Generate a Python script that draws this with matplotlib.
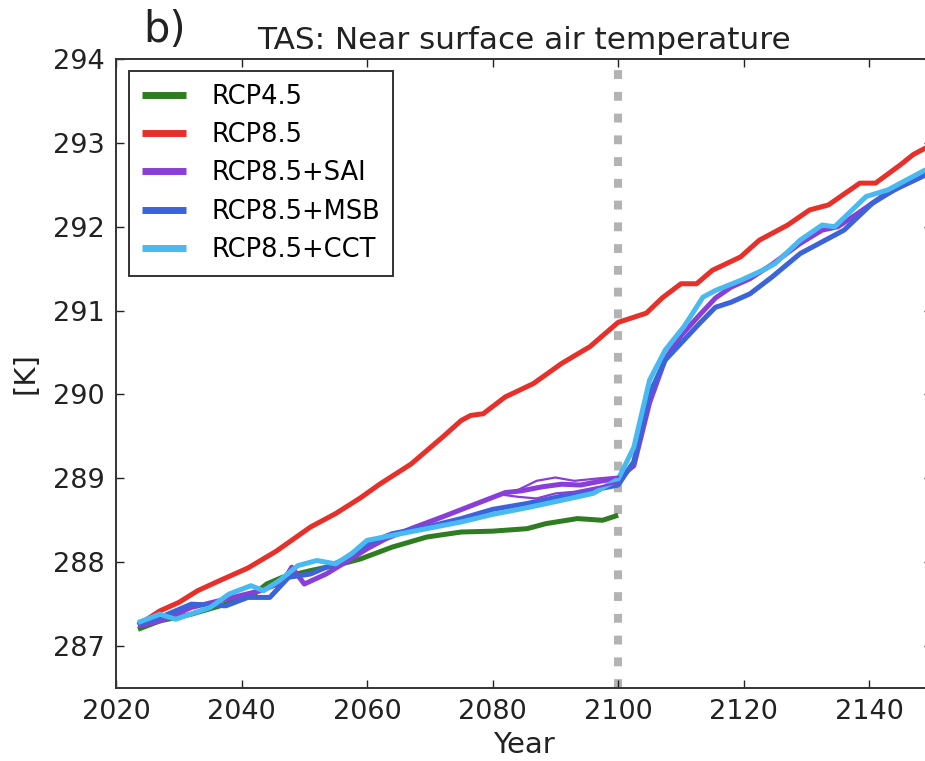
import matplotlib
matplotlib.use("Agg")
import matplotlib.pyplot as plt

# ---------------- data ----------------
rcp45_years = [2023.5, 2027, 2032, 2037.5, 2042, 2044, 2046.5, 2051, 2056, 2059, 2064,
               2069.5, 2075, 2080, 2085.5, 2088.5, 2093.5, 2097.5, 2100]
rcp45_vals = [287.20, 287.30, 287.38, 287.50, 287.62, 287.74, 287.82, 287.90, 287.98, 288.04,
              288.18, 288.30, 288.36, 288.37, 288.40, 288.46, 288.52, 288.50, 288.56]

rcp85_years = [2023.5, 2027, 2030, 2033, 2036.5, 2041, 2045.5, 2051, 2055, 2059, 2062, 2067,
               2072, 2075, 2076.5, 2078.5, 2082, 2086.5, 2091, 2095.5, 2100,
               2104.5, 2107, 2110, 2112.5, 2115, 2119.5, 2122.5, 2127, 2130.5, 2133.5,
               2138.5, 2141, 2145, 2147, 2149]
rcp85_vals = [287.25, 287.42, 287.52, 287.66, 287.78, 287.93, 288.13, 288.42, 288.58, 288.77,
              288.93, 289.17, 289.49, 289.69, 289.75, 289.77, 289.97, 290.13, 290.37, 290.57,
              290.86, 290.97, 291.15, 291.32, 291.32, 291.48, 291.64, 291.84, 292.02, 292.20,
              292.26, 292.52, 292.52, 292.74, 292.86, 292.94]

sai_years = [2023.5, 2027, 2032, 2037.5, 2043, 2046.5, 2048, 2050, 2053.5, 2057, 2060, 2063,
             2067, 2072, 2077.5, 2082, 2084.5, 2088, 2091, 2094, 2097.5, 2100,
             2102.5, 2105, 2107.5, 2110, 2113, 2115.5, 2118, 2121, 2124.5, 2129, 2132.5,
             2135, 2138, 2142, 2145, 2149]
sai_vals = [287.24, 287.30, 287.46, 287.56, 287.66, 287.76, 287.94, 287.74, 287.86, 288.02,
            288.16, 288.28, 288.40, 288.54, 288.70, 288.83, 288.85, 288.90, 288.93, 288.92,
            288.97, 289.00, 289.15, 289.90, 290.42, 290.70, 290.95, 291.15, 291.28, 291.38,
            291.55, 291.80, 291.96, 292.00, 292.15, 292.36, 292.48, 292.62]
sai_hi_years = [2082, 2084, 2087, 2090, 2093, 2097, 2100]
sai_hi_vals = [288.83, 288.86, 288.97, 289.01, 288.97, 289.00, 289.02]
sai_lo_years = [2082, 2084, 2087, 2090, 2093, 2097, 2100]
sai_lo_vals = [288.80, 288.78, 288.76, 288.82, 288.84, 288.90, 288.95]

msb_years = [2023.5, 2027, 2032, 2037.5, 2041, 2044.5, 2047.5, 2051, 2056, 2060, 2064,
             2069.5, 2075, 2080, 2085.5, 2090.5, 2096, 2100,
             2102.5, 2105, 2107.5, 2110, 2113, 2115.5, 2118, 2121, 2124.5, 2129, 2133,
             2136, 2140.5, 2144, 2149]
msb_vals = [287.26, 287.34, 287.50, 287.48, 287.58, 287.58, 287.82, 287.86, 288.02, 288.22,
            288.34, 288.42, 288.52, 288.63, 288.70, 288.78, 288.86, 288.92,
            289.20, 290.01, 290.41, 290.61, 290.85, 291.04, 291.10, 291.20, 291.40, 291.68,
            291.84, 291.96, 292.28, 292.44, 292.62]

cct_years = [2023.5, 2027, 2029.5, 2035, 2038, 2041.5, 2043.5, 2046, 2049, 2052, 2055,
             2057.5, 2060, 2064, 2069.5, 2075, 2080, 2085.5, 2090.5, 2096, 2100,
             2102.5, 2105, 2107.5, 2110.5, 2113.5, 2115.5, 2119.5, 2123, 2125, 2129,
             2132.5, 2134.5, 2139.5, 2143, 2149]
cct_vals = [287.28, 287.38, 287.32, 287.46, 287.62, 287.72, 287.66, 287.78, 287.96, 288.02,
            287.98, 288.10, 288.26, 288.32, 288.40, 288.48, 288.57, 288.65, 288.73, 288.82,
            288.99, 289.37, 290.17, 290.53, 290.81, 291.16, 291.24, 291.36, 291.48, 291.56,
            291.84, 292.02, 292.00, 292.36, 292.44, 292.68]

labels = ["RCP4.5", "RCP8.5", "RCP8.5+SAI", "RCP8.5+MSB", "RCP8.5+CCT"]
colors = ["#2e7d20", "#e8302a", "#8a3ed8", "#3b63da", "#49b9f2"]

xticks = [2020, 2040, 2060, 2080, 2100, 2120, 2140]
yticks = [287, 288, 289, 290, 291, 292, 293, 294]

# ---------------- figure ----------------
fig = plt.figure(figsize=(9.25, 7.61), dpi=100)
ax = fig.add_axes([116 / 925, 73 / 761, 816 / 925, 629 / 761])

ax.axvline(2100, color="#b3b3b3", lw=5.8, dashes=(1.1, 1.6), zorder=1)

series = [(rcp45_years, rcp45_vals), (rcp85_years, rcp85_vals), (sai_years, sai_vals),
          (msb_years, msb_vals), (cct_years, cct_vals)]
for (xs, ys), lab, col in zip(series, labels, colors):
    ax.plot(xs, ys, color=col, lw=3.6, label=lab, solid_capstyle="butt", zorder=3)
ax.plot(sai_hi_years, sai_hi_vals, color=colors[2], lw=1.6, zorder=3)
ax.plot(sai_lo_years, sai_lo_vals, color=colors[2], lw=1.6, zorder=3)

ax.set_xlim(2020, 2150)
ax.set_ylim(286.5, 294)
ax.set_xticks(xticks)
ax.set_yticks(yticks)
ax.tick_params(direction="in", top=True, right=True, length=6, width=1,
               labelsize=19.5, pad=8, colors="#222222")
for sp in ax.spines.values():
    sp.set_linewidth(1.4)
    sp.set_color("#333333")

ax.set_xlabel("Year", fontsize=21, labelpad=4, color="#222222")
ax.set_ylabel("[K]", fontsize=21, labelpad=10, color="#222222")
ax.set_title("TAS: Near surface air temperature", fontsize=22.4, pad=7, color="#222222")
fig.text(143 / 925, (761 - 42) / 761, "b)", fontsize=30, color="#222222", va="baseline")

leg = ax.legend(loc="upper left", bbox_to_anchor=(0.016, 0.981), borderaxespad=0,
                fontsize=18.5, handlelength=1.7, handletextpad=1.0, labelspacing=0.48,
                fancybox=False, framealpha=1, edgecolor="#333333", borderpad=0.5)
leg.get_frame().set_linewidth(1.4)
for line in leg.get_lines():
    line.set_linewidth(5)

fig.savefig("out.png", dpi=100)
